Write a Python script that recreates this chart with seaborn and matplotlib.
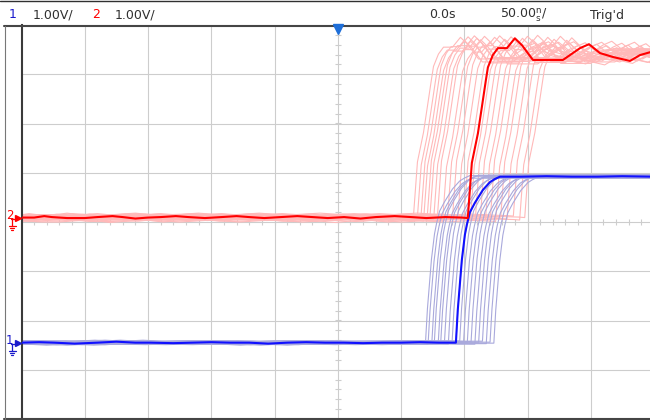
import numpy as np
import pandas as pd
import matplotlib
matplotlib.use("Agg")
import matplotlib.pyplot as plt
import seaborn as sns

# ---------------- scope settings ----------------
time_per_div = r"50.00$^{\mathrm{n}}_{\mathrm{s}}$/"   # 50 ns/div
ch1_scale = "1.00V/"
ch2_scale = "1.00V/"
time_ref = "0.0s"
trig_state = "Trig'd"
ch1_ground = -2.45              # screen divisions
ch2_ground = 0.09

# ---------------- channel 2 (red), last acquisition: time [ns], screen level [div] ----------------
ch2_t = [-300, -250, -240, -232, -226, -214, -200, -190, -178, -170, -160, -150, -140, -128,
         -118, -105, -92, -80, -70, -58, -45, -32, -20, -8, 5, 18, 30, 45, 58, 70, 85, 98,
         102.8, 106.0, 110.8, 113.9, 117.1, 118.7, 122.6, 126.6, 133.7, 140.0, 145.6, 154.3,
         178.0, 191.5, 198.6, 207.3, 217.6, 231.0, 239.0, 250.0, 300.0]
ch2_v = [0.09, 0.09, 0.09, 0.12, 0.10, 0.08, 0.08, 0.10, 0.12, 0.10, 0.07, 0.09, 0.10, 0.12,
         0.10, 0.08, 0.10, 0.12, 0.10, 0.08, 0.10, 0.12, 0.10, 0.08, 0.10, 0.07, 0.10, 0.12,
         0.10, 0.08, 0.10, 0.09,
         0.08, 1.20, 1.80, 2.33, 2.88, 3.14, 3.39, 3.53, 3.53, 3.73, 3.59, 3.29,
         3.29, 3.53, 3.61, 3.43, 3.35, 3.27, 3.39, 3.47, 3.45]

# ---------------- channel 1 (blue), last acquisition ----------------
ch1_t = [-300, -250, -236, -224, -208, -190, -175, -160, -148, -130, -115, -100, -85, -70,
         -55, -40, -25, -10, 5, 20, 35, 50, 65, 80, 93.4,
         94.9, 98.1, 100.5, 102.1, 104.5, 108.4, 114.7, 120.3, 124.0, 128.2,
         145, 165, 185, 205, 225, 250, 300]
ch1_v = [-2.45, -2.45, -2.44, -2.45, -2.47, -2.45, -2.43, -2.45, -2.45, -2.46, -2.45, -2.44,
         -2.45, -2.45, -2.47, -2.45, -2.44, -2.45, -2.45, -2.46, -2.45, -2.45, -2.44, -2.45, -2.45,
         -1.78, -0.77, -0.26, -0.05, 0.20, 0.39, 0.65, 0.81, 0.87, 0.92,
         0.92, 0.93, 0.92, 0.92, 0.93, 0.92, 0.92]

# ---------------- persistence: earlier acquisitions (edge shift [ns], level offset [div]) ----------------
ch2_ghost_shift = [-43, -40, -37, -35, -32, -30, -27, -24, -20, -16, -12, -8,
                   -3, 2, 6, 10, 14, 18, 22, 26, 31, 36, 41, 45]
ch2_ghost_level = [0.02, -0.04, 0.03, -0.06, 0.05, 0.00, -0.03, 0.04, -0.08, 0.02, 0.05, -0.02,
                   0.03, -0.05, 0.00, 0.04, -0.03, 0.06, -0.07, 0.02, -0.02, 0.04, -0.04, 0.01]
ch1_ghost_shift = [-24, -22, -19, -17, -14, -12, -9, -6, -3, 0, 3, 6,
                   9, 12, 15, 18, 21, 24, 27, 30]
ch1_ghost_level = [0.02, -0.03, 0.01, 0.03, -0.02, 0.00, 0.03, -0.03, 0.02, -0.01, 0.03, -0.02,
                   0.00, 0.02, -0.03, 0.01, 0.03, -0.02, 0.01, -0.01]

RED, PINK = "#ff0000", "#ffb9b9"
BLUE, LAVENDER = "#1010ff", "#a9a9dc"
GRID = "#cdcdcd"
INK = "#303030"


def ghost_frame(t, v, shifts, levels):
    rows = []
    for k, (dt, dv) in enumerate(zip(shifts, levels)):
        rows.append(pd.DataFrame({"t": np.asarray(t) + dt, "v": np.asarray(v) + dv, "trace": k}))
    return pd.concat(rows, ignore_index=True)


sns.set_theme(style="white")
plt.rcParams["font.family"] = ["DejaVu Sans"]
plt.rcParams["mathtext.fontset"] = "dejavusans"

W, H = 650, 420
fig = plt.figure(figsize=(W / 100, H / 100), dpi=100)
fig.patch.set_facecolor("white")

# graticule area: 10 x 8 divisions
ax = fig.add_axes([21.5 / W, 1.0 - 419.0 / H, 632.5 / W, 394.0 / H])
ax.set_xlim(-250, 250)
ax.set_ylim(-4, 4)
ax.set_xticks(np.arange(-250, 251, 50))
ax.set_yticks(np.arange(-4, 5, 1))
ax.grid(True, color=GRID, lw=0.8)
ax.tick_params(length=0, labelbottom=False, labelleft=False)
for side in ("top", "right", "bottom"):
    ax.spines[side].set_visible(False)
ax.spines["left"].set_color("#3a3a3a")
ax.spines["left"].set_linewidth(1.5)

# centre axis sub-division ticks
sub_t = np.arange(-250, 251, 10)
sub_v = np.arange(-4, 4.01, 0.2)
ax.plot(sub_t, np.zeros_like(sub_t), ls="none", marker="|", ms=4.5, mew=0.8, color=GRID, zorder=1)
ax.plot(np.zeros_like(sub_v), sub_v, ls="none", marker="_", ms=4.5, mew=0.8, color=GRID, zorder=1)

# persistence traces
g2 = ghost_frame(ch2_t, ch2_v, ch2_ghost_shift, ch2_ghost_level)
g1 = ghost_frame(ch1_t, ch1_v, ch1_ghost_shift, ch1_ghost_level)
sns.lineplot(data=g2, x="t", y="v", units="trace", estimator=None, color=PINK, lw=0.8,
             legend=False, ax=ax, zorder=2)
sns.lineplot(data=g1, x="t", y="v", units="trace", estimator=None, color=LAVENDER, lw=0.8,
             legend=False, ax=ax, zorder=2)

# latest acquisition
sns.lineplot(x=ch1_t, y=ch1_v, color=BLUE, lw=1.5, ax=ax, zorder=4)
sns.lineplot(x=ch2_t, y=ch2_v, color=RED, lw=1.5, ax=ax, zorder=4)
ax.set_xlabel("")
ax.set_ylabel("")

# screen overlay in pixel units (header, frame, channel markers)
ov = fig.add_axes([0, 0, 1, 1])
ov.set_xlim(0, W)
ov.set_ylim(H, 0)
ov.axis("off")
ov.patch.set_alpha(0)


def to_px(t, v):
    disp = ax.transData.transform((t, v))
    return ov.transData.inverted().transform(disp)


ov.plot([0, W], [0.5, 0.5], color=INK, lw=1.0)
ov.plot([4, W], [25.5, 25.5], color="#454545", lw=1.5)
ov.plot([4, W], [419, 419], color="#454545", lw=1.5)
ov.plot([4.5, 4.5], [25.5, 419], color="#777777", lw=0.8)

# trigger position marker
trig_x, _ = to_px(0, 4)
ov.plot([trig_x], [28.5], marker="v", ms=7, color="#1e6fd9", ls="none")

# header readouts, all on one baseline
fs = 9
base = 18.5
ov.text(9, base, "1", color="#1a1acc", fontsize=fs, va="baseline", ha="left")
ov.text(33, base, ch1_scale, color=INK, fontsize=fs, va="baseline", ha="left")
ov.text(92, base, "2", color=RED, fontsize=fs, va="baseline", ha="left")
ov.text(115, base, ch2_scale, color=INK, fontsize=fs, va="baseline", ha="left")
ov.text(429, base, time_ref, color=INK, fontsize=fs, va="baseline", ha="left")
ov.text(500, base, time_per_div, color=INK, fontsize=fs, va="baseline", ha="left")
ov.text(590, base, trig_state, color=INK, fontsize=fs, va="baseline", ha="left")


def ground_marker(label, level, color):
    _, y = to_px(0, level)
    ov.text(6, y - 2.5, label, color=color, fontsize=8.5, va="center", ha="left")
    ov.plot([11, 15.5], [y + 1, y + 1], color=color, lw=0.9)
    ov.plot([12, 12], [y + 1, y + 8], color=color, lw=0.9)
    ov.plot([8.5, 15.5], [y + 8, y + 8], color=color, lw=0.9)
    ov.plot([9.8, 14.2], [y + 10.3, y + 10.3], color=color, lw=0.9)
    ov.plot([11.1, 12.9], [y + 12.6, y + 12.6], color=color, lw=0.9)
    ov.plot([18], [y], marker=">", ms=5, color=color, ls="none")


ground_marker("2", ch2_ground, RED)
ground_marker("1", ch1_ground, "#1a1acc")

fig.savefig("out.png", dpi=100, facecolor="white")
